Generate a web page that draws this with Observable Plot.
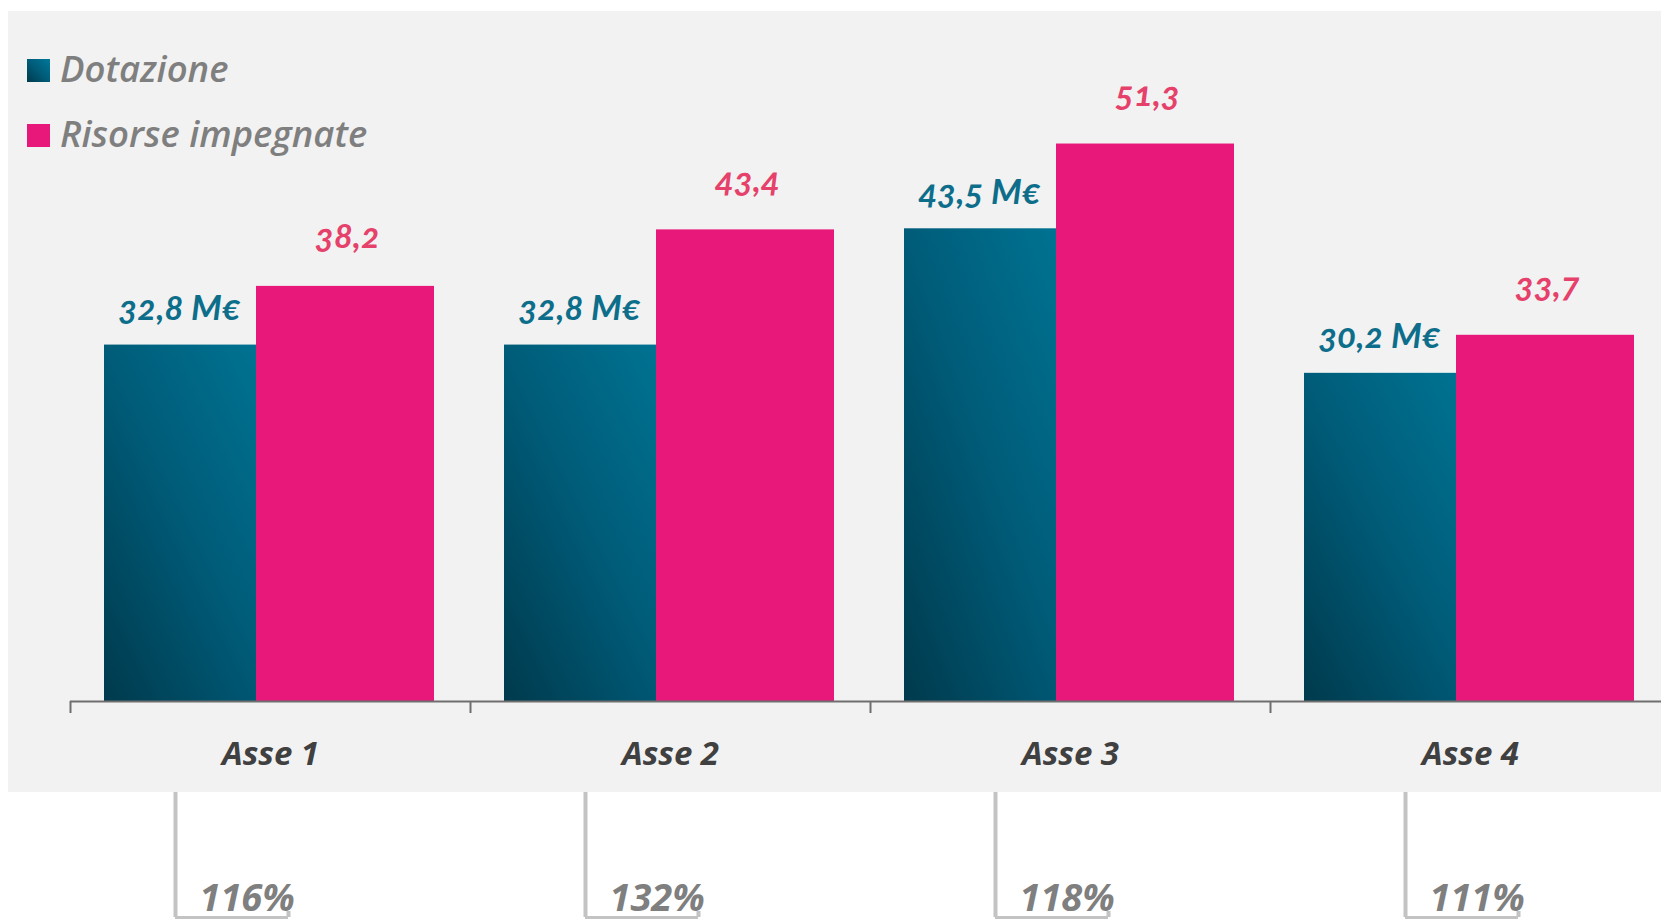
<!DOCTYPE html>
<html>
<head>
<meta charset="utf-8">
<script src="https://cdn.jsdelivr.net/npm/d3@7"></script>
<script src="https://cdn.jsdelivr.net/npm/@observablehq/plot@0.6"></script>
<style>
html,body{margin:0;padding:0;background:#fff;overflow:hidden;}
#wrap{position:relative;width:1661px;height:919px;}
#panel{position:absolute;left:8px;top:11px;width:1653px;height:781px;background:#f2f2f2;}
#main{position:absolute;left:0;top:0;}
#bottom{position:absolute;left:0;top:792px;}
#legend{position:absolute;left:0;top:0;font-family:"Open Sans";font-style:italic;font-weight:600;font-size:36.5px;line-height:36px;color:#7f7f7f;}
.item{position:absolute;white-space:nowrap;}
.sw{position:absolute;width:23px;height:23px;}
</style>
</head>
<body>
<div id="wrap">
  <div id="panel"></div>
  <div id="main"></div>
  <div id="bottom"></div>
  <div id="legend">
    <div class="sw" style="left:27px;top:59px;background:linear-gradient(45deg,#003a4d,#005c79 50%,#00789a);"></div>
    <div class="item" style="left:60px;top:50px;">Dotazione</div>
    <div class="sw" style="left:27px;top:124px;background:#e8177a;"></div>
    <div class="item" style="left:60px;top:115px;">Risorse impegnate</div>
  </div>
</div>
<script>
const categories = ["Asse 1", "Asse 2", "Asse 3", "Asse 4"];
const dotazione = [32.8, 32.8, 43.5, 30.2];
const risorse = [38.2, 43.4, 51.3, 33.7];
const dotazioneLabels = ["32,8 M€", "32,8 M€", "43,5 M€", "30,2 M€"];
const risorseLabels = ["38,2", "43,4", "51,3", "33,7"];
const percentLabels = ["116%", "132%", "118%", "111%"];

const dot = categories.map((c, i) => ({cat: c, value: dotazione[i], label: dotazioneLabels[i]}));
const ris = categories.map((c, i) => ({cat: c, value: risorse[i], label: risorseLabels[i]}));
const pct = categories.map((c, i) => ({cat: c, label: percentLabels[i]}));

const labelFont = {fontSize: 35, fontWeight: 700, fontStyle: "italic", fontFamily: "Lato", fontVariant: "oldstyle-nums"};

const main = Plot.plot({
  width: 1661, height: 919,
  marginLeft: 70, marginRight: -9, marginTop: 49, marginBottom: 218,
  style: {background: "transparent", overflow: "visible"},
  x: {type: "band", domain: categories, padding: 0, range: [70, 1670], axis: null},
  y: {domain: [0, 60], range: [701, 49], axis: null},
  marks: [
    Plot.barY(dot, {x: "cat", y: "value", fill: "url(#tealGrad)", insetLeft: 34, insetRight: 188}),
    Plot.barY(ris, {x: "cat", y: "value", fill: "#e8177a", insetLeft: 186, insetRight: 36}),
    Plot.ruleY([0], {stroke: "#6f6f6f", strokeWidth: 2}),
    Plot.ruleX(categories, {x: d => d, y1: () => 0, y2: () => 0, insetBottom: -12, dx: -200, stroke: "#6f6f6f", strokeWidth: 2}),
    Plot.text(dot, {x: "cat", y: "value", text: "label", dx: -91, dy: -25, lineAnchor: "bottom", fill: "#0d6e8b", ...labelFont}),
    Plot.text(ris, {x: "cat", y: "value", text: "label", dx: 77, dy: -38, lineAnchor: "bottom", fill: "#e5416a", ...labelFont}),
    Plot.axisX({tickSize: 0, tickPadding: 40, fontSize: 33, fontWeight: 700, fontStyle: "italic", fontFamily: "Open Sans", fill: "#404040", label: null})
  ]
});

const svg = d3.select(main);
const grad = svg.insert("defs", ":first-child").append("linearGradient")
  .attr("id", "tealGrad").attr("x1", 0).attr("y1", 1).attr("x2", 1).attr("y2", 0);
grad.append("stop").attr("offset", "0").attr("stop-color", "#003a4d");
grad.append("stop").attr("offset", "0.5").attr("stop-color", "#005c79");
grad.append("stop").attr("offset", "1").attr("stop-color", "#007696");
document.getElementById("main").appendChild(main);

const bottom = Plot.plot({
  width: 1661, height: 127,
  marginLeft: 65, marginRight: 0, marginTop: 0, marginBottom: 2,
  style: {background: "transparent", overflow: "visible"},
  x: {type: "band", domain: categories, padding: 0, range: [65, 1706], axis: null},
  y: {domain: [0, 1], range: [125, 0], axis: null},
  marks: [
    Plot.ruleX(categories, {x: d => d, y1: () => 0, y2: () => 1, dx: -96, stroke: "#c3c3c3", strokeWidth: 4}),
    Plot.tickY(categories, {x: d => d, y: () => 0, insetLeft: 109, insetRight: 188, stroke: "#c3c3c3", strokeWidth: 3}),
    Plot.ruleX(categories, {x: d => d, y1: () => 0, y2: () => 0, insetTop: -6, dx: 17, stroke: "#c3c3c3", strokeWidth: 4}),
    Plot.text(pct, {x: "cat", y: () => 0, text: "label", textAnchor: "start", dx: -72, dy: -7, lineAnchor: "bottom", fill: "#7f7f7f", fontSize: 38, fontWeight: 700, fontStyle: "italic", fontFamily: "Open Sans"})
  ]
});
document.getElementById("bottom").appendChild(bottom);
</script>
</body>
</html>
